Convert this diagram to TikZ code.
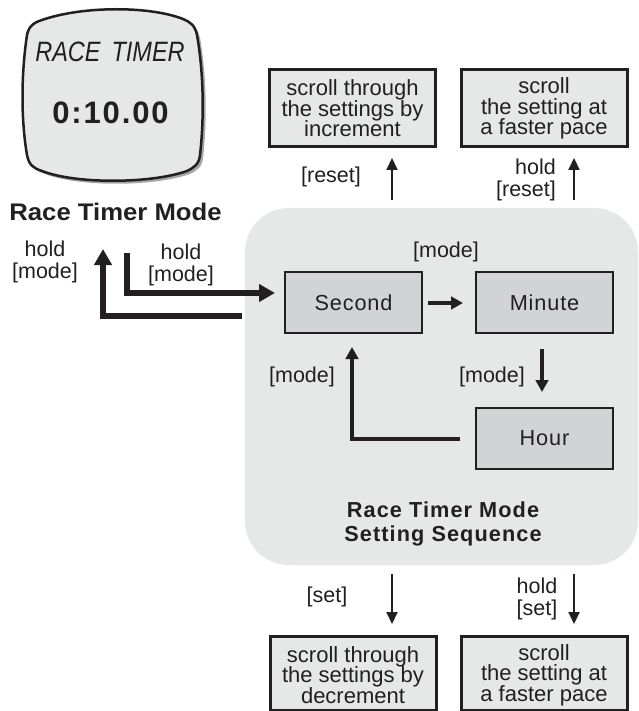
\documentclass[tikz,border=0pt]{standalone}
\usepackage{graphicx}
\usepackage{fontspec}
\setmainfont{Liberation Sans}
\usetikzlibrary{arrows.meta}
\lineskiplimit=-30pt
\normallineskiplimit=-30pt
\newcommand{\toppad}{\rule{0pt}{20pt}}
\definecolor{panelgray}{HTML}{E6E7E7}
\definecolor{boxgray}{HTML}{D1D3D4}
\definecolor{inkc}{HTML}{231F20}
\tikzset{
  lbl/.style={align=center,inner sep=0pt,text=inkc,font=\fontsize{21.5}{22}\selectfont},
  infobox/.style={draw=inkc,line width=3pt,fill=panelgray,align=center,inner sep=0pt,text=inkc,minimum width=166pt,font=\fontsize{22}{20.5}\selectfont},
  modebox/.style={draw=inkc,line width=2.5pt,fill=boxgray,inner sep=0pt,text=inkc,minimum width=137pt,minimum height=61pt,font=\fontsize{21.7}{22}\selectfont\addfontfeatures{LetterSpace=4}},
  thinarrow/.style={draw=inkc,line width=2pt,-{Triangle[length=12pt,width=11pt]}},
  midarrow/.style={draw=inkc,line width=4.5pt,-{Triangle[length=12pt,width=12.5pt]}},
  fatarrow/.style={draw=inkc,line width=6pt,-{Triangle[length=16pt,width=17pt]}},
  titlelbl/.style={align=center,inner sep=0pt,text=inkc,font=\fontsize{21.7}{24}\selectfont\bfseries},
  watchshape/.pic={
    \path[pic actions] (45,19) .. controls (85,6) and (150,6) .. (183,19)
      .. controls (190,22) and (195,25) .. (197,35)
      .. controls (204,75) and (204,120) .. (200,155)
      .. controls (199,165) and (193,168) .. (187,171)
      .. controls (150,184) and (75,184) .. (42,171)
      .. controls (33,168) and (29,165) .. (27,155)
      .. controls (21,120) and (21,75) .. (27,35)
      .. controls (29,25) and (35,22) .. (45,19) -- cycle;
  }
}
\begin{document}
\begin{tikzpicture}[x=1pt,y=-1pt]
\useasboundingbox (0,0) rectangle (638,711);
\fill[white] (0,0) rectangle (638,711);
% panel
\fill[panelgray,rounded corners=44pt] (245,208) rectangle (638,565);
% watch
\pic[fill=gray!70!white,xshift=3pt,yshift=-3pt] {watchshape};
\pic[draw=inkc,line width=2.5pt,fill=panelgray] {watchshape};
\node[inner sep=0pt,text=inkc,font=\fontsize{28}{30}\selectfont\itshape] (watchtitle) at (110,52) {\scalebox{0.84}[1]{RACE\hspace{13pt}TIMER}};
\node[inner sep=0pt,text=inkc,font=\fontsize{31}{33}\selectfont\bfseries\addfontfeatures{LetterSpace=6}] (watchtime) at (110.5,113) {0:10.00};
\node[titlelbl,font=\fontsize{24}{26}\selectfont\bfseries] (modetitle) at (115.5,212) {\scalebox{1.07}[1]{Race Timer Mode}};
% boxes
\node[infobox,minimum height=77pt] (incbox) at (352.5,108.5) {scroll through\\the settings by\\increment};
\node[infobox,minimum height=77pt] (fastup) at (544,108.5) {scroll\\the setting at\\a faster pace};
\node[infobox,minimum height=74pt] (decbox) at (353,673) {\toppad scroll through\\the settings by\\decrement};
\node[infobox,minimum height=74pt] (fastdown) at (544,673) {\toppad scroll\\the setting at\\a faster pace};
\node[modebox] (second) at (353.5,302.5) {Second};
\node[modebox] (minute) at (544.5,302.5) {Minute};
\node[modebox] (hour) at (544.5,438.5) {Hour};
\node[titlelbl,font=\fontsize{21.7}{24}\selectfont\bfseries\addfontfeatures{LetterSpace=5}] (seqtitle) at (443,524) {Race Timer Mode\\Setting Sequence};
% labels
\node[lbl] (l1) at (45,261.5) {hold\\{[mode]}};
\node[lbl] (l2) at (181,264.5) {hold\\{[mode]}};
\node[lbl] (l3) at (331,177) {[reset]};
\node[lbl,align=right] (l4) at (526,179.5) {hold\\{[reset]}};
\node[lbl] (l5) at (446,252) {[mode]};
\node[lbl] (l6) at (302,377) {[mode]};
\node[lbl] (l7) at (492,377) {[mode]};
\node[lbl] (l8) at (327,597) {[set]};
\node[lbl] (l9) at (537,598.5) {hold\\{[set]}};
% connectors
\coordinate (a1s) at (392,200); \coordinate (a1e) at (392,158);
\coordinate (a2s) at (574,200); \coordinate (a2e) at (574,158);
\coordinate (a3s) at (392,574); \coordinate (a3e) at (392,624);
\coordinate (a4s) at (574,574); \coordinate (a4e) at (574,624);
\draw[thinarrow] (a1s) -- (a1e);
\draw[thinarrow] (a2s) -- (a2e);
\draw[thinarrow] (a3s) -- (a3e);
\draw[thinarrow] (a4s) -- (a4e);
\coordinate (infrom) at (127,253); \coordinate (inend) at (275,293);
\coordinate (outfrom) at (242,316); \coordinate (outend) at (103,249);
\draw[fatarrow] (infrom) |- (inend);
\draw[fatarrow] (outfrom) -| (outend);
\coordinate (smS) at (428,303); \coordinate (smE) at (463,303);
\draw[midarrow] (smS) -- (smE);
\coordinate (mhS) at (542,349); \coordinate (mhE) at (542,392);
\draw[midarrow] (mhS) -- (mhE);
\coordinate (hsS) at (460,439); \coordinate (hsE) at (352,347);
\draw[midarrow] (hsS) -| (hsE);
\end{tikzpicture}
\end{document}
